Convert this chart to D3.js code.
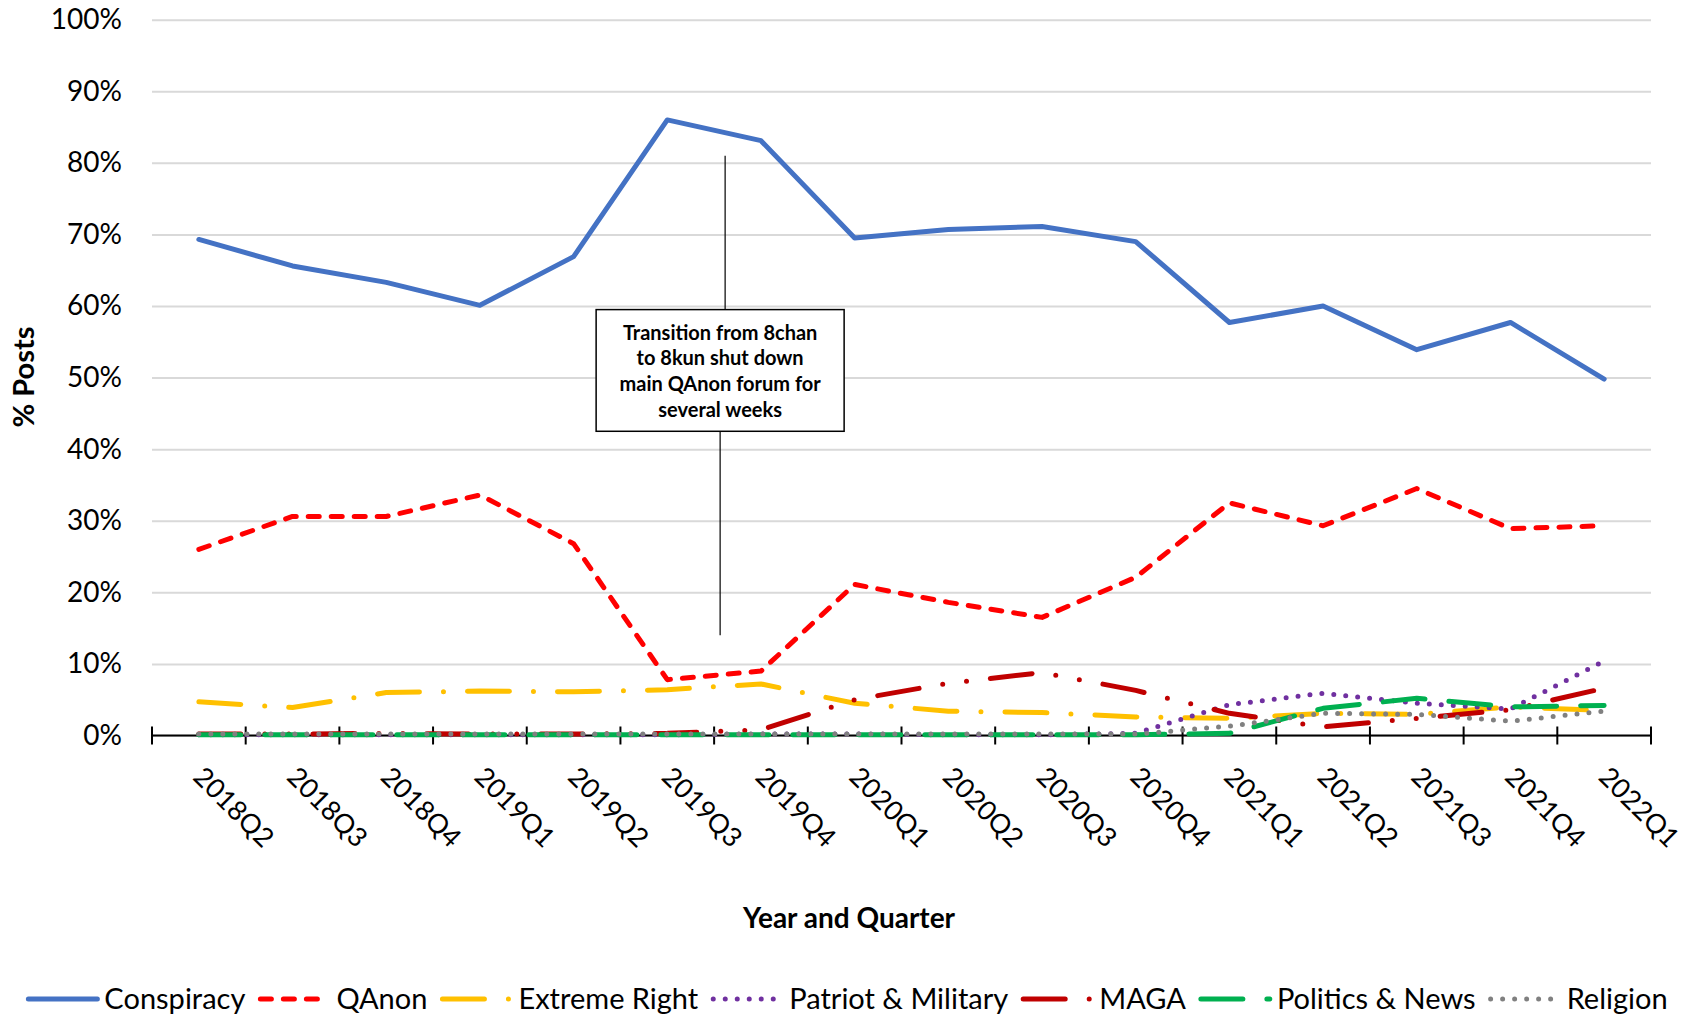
<!DOCTYPE html>
<html>
<head>
<meta charset="utf-8">
<script src="https://cdn.jsdelivr.net/npm/d3@7/dist/d3.min.js"></script>
<style>
  body { margin: 0; background: #fff; }
  svg { display: block; font-family: Lato, "Open Sans", sans-serif; }
</style>
</head>
<body>
<script>
// quarters on the x axis
var quarters = ["2018Q2", "2018Q3", "2018Q4", "2019Q1", "2019Q2", "2019Q3", "2019Q4", "2020Q1",
                "2020Q2", "2020Q3", "2020Q4", "2021Q1", "2021Q2", "2021Q3", "2021Q4", "2022Q1"];

// % of posts per category
var conspiracy   = [69.3, 65.6, 63.3, 60.1, 66.9, 86.0, 83.1, 69.5, 70.7, 71.1, 69.0, 57.7, 60.0, 53.9, 57.7, 49.8];
var qanon        = [26.0, 30.6, 30.6, 33.6, 26.8, 7.8, 9.0, 21.1, 18.6, 16.5, 22.1, 32.5, 29.3, 34.5, 28.9, 29.3];
var extremeRight = [4.7, 3.9, 6.0, 6.2, 6.1, 6.4, 7.2, 4.5, 3.4, 3.2, 2.6, 2.4, 3.1, 2.95, 4.0, 3.5];
var patriot      = [0.1, 0.1, 0.1, 0.1, 0.1, 0.1, 0.2, 0.2, 0.1, 0.1, 0.3, 4.3, 5.9, 4.5, 3.7, 10.4];
var maga         = [0.2, 0.2, 0.3, 0.2, 0.2, 0.3, 0.8, 5.0, 7.3, 8.8, 6.3, 3.1, 1.2, 2.4, 3.6, 6.6];
var politics     = [0.1, 0.1, 0.1, 0.1, 0.1, 0.1, 0.1, 0.1, 0.1, 0.1, 0.1, 0.3, 3.8, 5.2, 4.0, 4.2];
var religion     = [0.2, 0.2, 0.2, 0.2, 0.2, 0.2, 0.2, 0.2, 0.2, 0.2, 0.2, 1.3, 3.1, 2.95, 2.0, 3.4];

var yTicks = [0, 10, 20, 30, 40, 50, 60, 70, 80, 90, 100];

var series = [
    {name: "Conspiracy",         values: conspiracy,   color: "#4472C4", dash: null},
    {name: "QAnon",              values: qanon,        color: "#FF0000", dash: "11 12"},
    {name: "Extreme Right",      values: extremeRight, color: "#FFC000", dash: "42 24 0 24"},
    {name: "Patriot & Military", values: patriot,      color: "#7030A0", dash: "0 12"},
    {name: "MAGA",               values: maga,         color: "#C00000", dash: "42 24 0 24 0 24"},
    {name: "Politics & News",    values: politics,     color: "#00B050", dash: "42 24"},
    {name: "Religion",           values: religion,     color: "#808080", dash: "0 12"}
];

function draw() {
    var width = 1694, height = 1017;
    var left = 152, right = 1651, top = 19.7, bottom = 735.5;

    var svg = d3.select("body")
        .append("svg")
        .attr("width", width)
        .attr("height", height);

    var x = d3.scaleBand().domain(quarters).range([left, right]);
    var y = d3.scaleLinear().domain([0, 100]).range([bottom, top]);
    var cx = function (i) { return x(quarters[i]) + x.bandwidth() / 2; };

    // y axis: labels + gridlines
    var yAxis = svg.append("g")
        .attr("transform", "translate(" + left + ",0)")
        .call(d3.axisLeft(y).tickValues(yTicks).tickSize(-(right - left)).tickPadding(30)
            .tickFormat(function (d) { return d + "%"; }));
    yAxis.select(".domain").remove();
    yAxis.selectAll("line").attr("stroke", "#d9d9d9").attr("stroke-width", 2);
    yAxis.selectAll("text").attr("font-size", 28).attr("fill", "#000")
        .style("font-family", "Lato");

    // x axis line and crossing ticks at band edges
    svg.append("line")
        .attr("x1", left).attr("x2", right)
        .attr("y1", bottom).attr("y2", bottom)
        .attr("stroke", "#000").attr("stroke-width", 2);
    var edges = quarters.map(function (q) { return x(q); }).concat([right]);
    svg.selectAll(".xtick").data(edges).enter().append("line")
        .attr("x1", function (d) { return d; }).attr("x2", function (d) { return d; })
        .attr("y1", bottom - 9).attr("y2", bottom + 9)
        .attr("stroke", "#000").attr("stroke-width", 2);

    svg.selectAll(".xlabel").data(quarters).enter().append("text")
        .attr("transform", function (d, i) { return "translate(" + (cx(i) - 7) + "," + (bottom + 43) + ") rotate(45)"; })
        .attr("font-size", 27)
        .attr("fill", "#000")
        .text(function (d) { return d; });

    // lines
    var line = d3.line()
        .x(function (d, i) { return cx(i); })
        .y(function (d) { return y(d); });

    series.forEach(function (s) {
        svg.append("path")
            .attr("d", line(s.values))
            .attr("fill", "none")
            .attr("stroke", s.color)
            .attr("stroke-width", 5)
            .attr("stroke-linecap", "round")
            .attr("stroke-linejoin", "round")
            .attr("stroke-dasharray", s.dash);
    });

    // annotation
    var ax = x("2019Q4") + 6;
    svg.append("line")
        .attr("x1", ax + 5).attr("x2", ax + 5)
        .attr("y1", y(81)).attr("y2", y(59.5))
        .attr("stroke", "#000").attr("stroke-width", 1.2);
    svg.append("line")
        .attr("x1", ax).attr("x2", ax)
        .attr("y1", y(42.5)).attr("y2", y(14))
        .attr("stroke", "#000").attr("stroke-width", 1.2);
    svg.append("rect")
        .attr("x", ax - 124).attr("y", y(59.5))
        .attr("width", 248).attr("height", y(42.5) - y(59.5))
        .attr("fill", "#fff").attr("stroke", "#000").attr("stroke-width", 1.5);
    var note = ["Transition from 8chan", "to 8kun shut down", "main QAnon forum for", "several weeks"];
    svg.append("g").selectAll("text").data(note).enter().append("text")
        .attr("x", ax)
        .attr("y", function (d, i) { return y(59.5) + 30 + i * 25.7; })
        .attr("text-anchor", "middle")
        .attr("font-size", 20)
        .attr("font-weight", "bold")
        .attr("fill", "#000")
        .text(function (d) { return d; });

    // axis titles
    svg.append("text")
        .attr("transform", "translate(34," + 377 + ") rotate(-90)")
        .attr("text-anchor", "middle")
        .attr("font-size", 29)
        .attr("font-weight", "bold")
        .text("% Posts");
    svg.append("text")
        .attr("x", 849).attr("y", 928)
        .attr("text-anchor", "middle")
        .attr("font-size", 28)
        .attr("font-weight", "bold")
        .text("Year and Quarter");

    // legend
    var legend = svg.append("g");
    var lx = 0, ly = 999;
    series.forEach(function (s) {
        var g = legend.append("g").attr("transform", "translate(" + lx + ",0)");
        g.append("line")
            .attr("x1", 2).attr("x2", 71)
            .attr("y1", ly).attr("y2", ly)
            .attr("stroke", s.color)
            .attr("stroke-width", 5)
            .attr("stroke-linecap", "round")
            .attr("stroke-dasharray", s.dash);
        var t = g.append("text")
            .attr("x", 78).attr("y", ly + 10)
            .attr("font-size", 29)
            .attr("fill", "#000")
            .text(s.name);
        lx += 78 + t.node().getComputedTextLength() + 13;
    });
    legend.attr("transform", "translate(" + (847 - (lx - 13) / 2) + ",0)");
}
draw();
</script>
</body>
</html>
